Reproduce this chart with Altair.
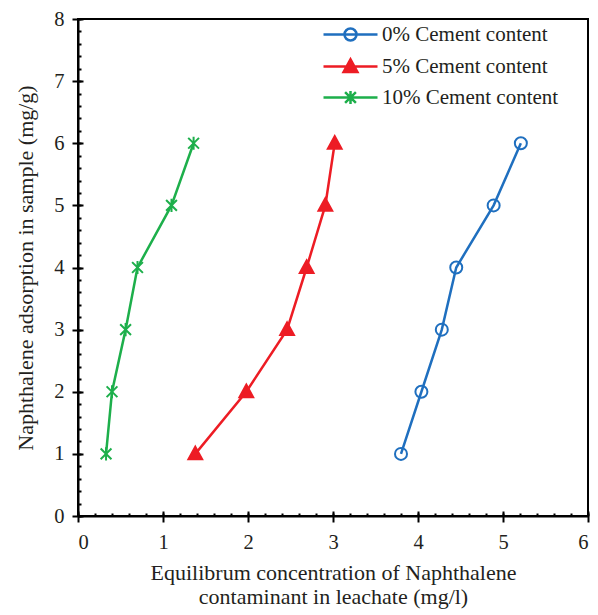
import altair as alt
import pandas as pd

series = ["0% Cement content", "5% Cement content", "10% Cement content"]
y_vals = [1, 2, 3, 4, 5, 6]
x_0 = [3.80, 4.04, 4.28, 4.45, 4.89, 5.21]
x_5 = [1.38, 1.98, 2.46, 2.69, 2.91, 3.02]
x_10 = [0.33, 0.40, 0.56, 0.70, 1.10, 1.36]

x_ticks = [0, 1, 2, 3, 4, 5, 6]
y_ticks = [0, 1, 2, 3, 4, 5, 6, 7, 8]
x_minor = [round(i * 0.2, 1) for i in range(31)]
y_minor = [round(i * 0.2, 1) for i in range(41)]

colors = ["#1F6FBF", "#ED1C24", "#1DAF4B"]
fills = ["transparent", "#ED1C24", "transparent"]
marker_paths = [
    "M1,0A1,1,0,1,1,-1,0A1,1,0,1,1,1,0Z",
    "M0,-1.2L1.15,0.9L-1.15,0.9Z",
    "M-0.9,-0.9L0.9,0.9M-0.9,0.9L0.9,-0.9M0,-1.1L0,1.1",
]
legend_paths = ["M-4.5,0H4.5" + p for p in marker_paths]

rows = []
for s, xs in zip(series, [x_0, x_5, x_10]):
    for xv, yv in zip(xs, y_vals):
        rows.append({"series": s, "x": xv, "y": yv})
df = pd.DataFrame(rows)

FONT = "Liberation Serif"
TXT = "#231F20"
W, H = 510, 497

xscale = alt.Scale(domain=[0, 6], nice=False, zero=False)
yscale = alt.Scale(domain=[0, 8], nice=False, zero=False)

base = alt.Chart(df)

lines = base.mark_line(strokeWidth=2.5).encode(
    x=alt.X("x:Q", scale=xscale,
            title=["Equilibrum concentration of Naphthalene", "contaminant in leachate (mg/l)"],
            axis=alt.Axis(values=x_ticks, orient="bottom", grid=False, tickSize=6, tickWidth=2,
                          tickColor="black", domainColor="black", domainWidth=2,
                          labelFont=FONT, labelFontSize=20.5, labelColor=TXT, labelPadding=10,
                          titleFont=FONT, titleFontSize=22, titleColor=TXT, titleFontWeight="normal",
                          titlePadding=10, titleLineHeight=23.5)),
    y=alt.Y("y:Q", scale=yscale, title="Naphthalene adsorption in sample (mg/g)",
            axis=alt.Axis(values=y_ticks, orient="left", grid=False, tickSize=6, tickWidth=2,
                          tickColor="black", domainColor="black", domainWidth=2,
                          labelFont=FONT, labelFontSize=20.5, labelColor=TXT, labelPadding=8,
                          titleFont=FONT, titleFontSize=22, titleColor=TXT, titleFontWeight="normal",
                          titlePadding=16)),
    color=alt.Color("series:N", scale=alt.Scale(domain=series, range=colors), legend=None),
    detail="series:N",
)

points = base.mark_point(size=144, strokeWidth=2, opacity=1).encode(
    x=alt.X("x:Q", scale=xscale, title="",
            axis=alt.Axis(values=x_ticks, orient="top", offset=-H, grid=False, labels=False,
                          domain=False, tickSize=5, tickWidth=2, tickColor="black")),
    y=alt.Y("y:Q", scale=yscale, title="",
            axis=alt.Axis(values=y_ticks, orient="right", offset=-W, grid=False, labels=False,
                          domain=False, tickSize=5, tickWidth=2, tickColor="black")),
    shape=alt.Shape("series:N", scale=alt.Scale(domain=series, range=marker_paths), legend=None),
    stroke=alt.Stroke("series:N", scale=alt.Scale(domain=series, range=colors), legend=None),
    fill=alt.Fill("series:N", scale=alt.Scale(domain=series, range=fills), legend=None),
)

legend_layer = base.transform_filter("datum.y < -100").mark_point(size=144, strokeWidth=2, opacity=1).encode(
    x=alt.X("x:Q", scale=xscale, title="",
            axis=alt.Axis(values=x_minor, orient="top", offset=-H, grid=False, labels=False,
                          domain=False, tickSize=3, tickWidth=2, tickColor="black")),
    y=alt.Y("y:Q", scale=yscale, title="",
            axis=alt.Axis(values=y_minor, orient="right", offset=-W, grid=False, labels=False,
                          domain=False, tickSize=3, tickWidth=2, tickColor="black")),
    shape=alt.Shape("series:N", scale=alt.Scale(domain=series, range=legend_paths),
                    legend=alt.Legend(title=None, orient="none", legendX=262, legendY=5,
                                      labelFont=FONT, labelFontSize=21, labelColor=TXT,
                                      labelOffset=21, rowPadding=8, symbolStrokeWidth=2.5,
                                      symbolSize=144, padding=0, labelLimit=400)),
    stroke=alt.Stroke("series:N", scale=alt.Scale(domain=series, range=colors)),
    fill=alt.Fill("series:N", scale=alt.Scale(domain=series, range=fills)),
)

chart = alt.layer(lines, points, legend_layer).resolve_scale(
    shape="independent", stroke="independent", fill="independent"
).resolve_axis(x="independent", y="independent").properties(
    width=W, height=H,
    padding={"left": 70, "top": 11, "right": 2, "bottom": 97},
    autosize=alt.AutoSizeParams(type="none"),
    background="white",
).configure_view(stroke="black", strokeWidth=2)

chart.save("out.html", embed_options={"renderer": "svg", "actions": False})
